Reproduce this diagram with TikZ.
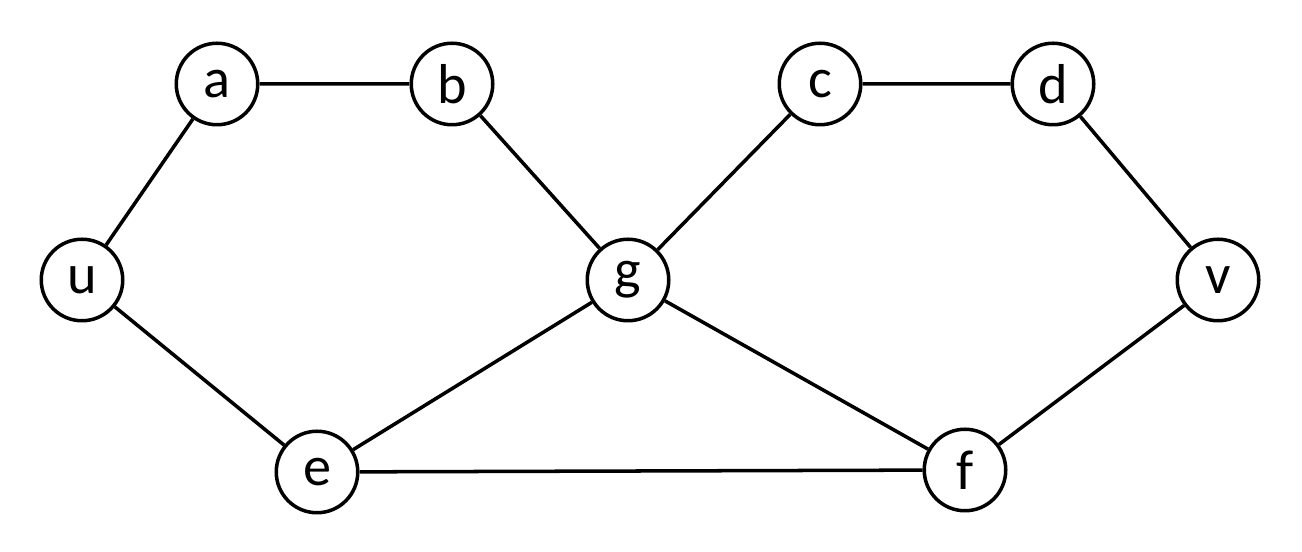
\documentclass[tikz,border=0pt]{standalone}
\usepackage{fontspec}
\setmainfont{Carlito}
\usetikzlibrary{positioning}
\tikzset{vtx/.style={draw,circle,line width=2pt,minimum size=1.63cm,inner sep=0pt,fill=white,font=\fontsize{32}{38}\selectfont}}
\begin{document}
\begin{tikzpicture}[line width=2pt,line join=round]
\useasboundingbox (0,0) rectangle (26.04,11.04);
% --- vertices
\node[vtx] (a) at (4.34,9.36) {a};
\node[vtx] (b) at (9.04,9.36) {b};
\node[vtx] (c) at (16.4,9.36) {c};
\node[vtx] (d) at (21.06,9.36) {d};
\node[vtx] (u) at (1.64,5.44) {u};
\node[vtx] (g) at (12.56,5.44) {g};
\node[vtx] (v) at (24.36,5.44) {v};
\node[vtx] (e) at (6.34,1.6) {e};
\node[vtx] (f) at (19.3,1.64) {f};
% --- edges
\draw (u) -- (a) (a) -- (b) (b) -- (g) (g) -- (c) (c) -- (d) (d) -- (v);
\draw (u) -- (e) (e) -- (g) (g) -- (f) (e) -- (f) (f) -- (v);
\end{tikzpicture}
\end{document}
